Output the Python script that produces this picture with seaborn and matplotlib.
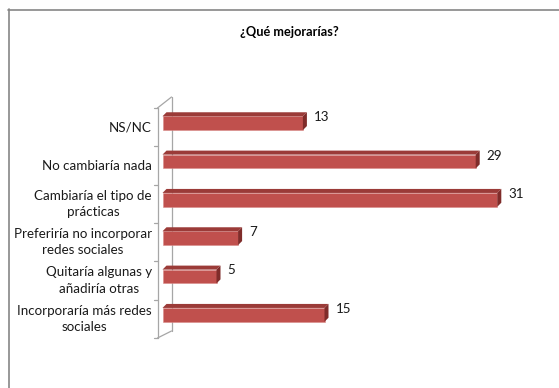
import matplotlib
matplotlib.use("Agg")
import matplotlib.pyplot as plt
from matplotlib.patches import Polygon
from matplotlib.lines import Line2D
from matplotlib.transforms import IdentityTransform
import seaborn as sns
import pandas as pd

categories = ["NS/NC", "No cambiaría nada", "Cambiaría el tipo de\nprácticas",
              "Preferiría no incorporar\nredes sociales", "Quitaría algunas y\nañadiría otras",
              "Incorporaría más redes\nsociales"]
values = [13, 29, 31, 7, 5, 15]
title = "¿Qué mejorarías?"

sns.set_theme(style="white")
plt.rcParams['font.family'] = ['Lato', 'DejaVu Sans']

W, H = 559, 388
fig = plt.figure(figsize=(W / 100, H / 100), dpi=100)
fig.patch.set_facecolor("white")


def fx(x):
    return x / W


def fy(y):
    return 1 - y / H


X0, SCALE = 162.5, 10.8
TOP, BOT = 104, 334
ax = fig.add_axes([fx(X0), fy(BOT), 36 * SCALE / W, (BOT - TOP) / H])
ax.set_zorder(1)

df = pd.DataFrame({"cat": categories, "val": values})
sns.barplot(data=df, x="val", y="cat", orient="h", color="#C0504D", saturation=1,
            width=0.36, ax=ax, edgecolor="#D98C8A", linewidth=0.4)
ax.set_xlim(0, 36)
ax.set_ylim(len(categories) - 0.5, -0.5)
for s in ax.spines.values():
    s.set_visible(False)
ax.set_xticks([])
ax.set_yticks([])
ax.set_xlabel("")
ax.set_ylabel("")
ax.patch.set_alpha(0)

# 3D faces derived from bar geometry
d = 4.0
for p in ax.patches:
    x, y, w, h = p.get_x(), p.get_y(), p.get_width(), p.get_height()
    (dx0, dy0) = ax.transData.transform((x, y))
    (dx1, dy1) = ax.transData.transform((x + w, y + h))
    xl, xr = min(dx0, dx1), max(dx0, dx1)
    yb, yt = min(dy0, dy1), max(dy0, dy1)
    top = Polygon([(xl, yt), (xr, yt), (xr + d, yt + d), (xl + d, yt + d)],
                  closed=True, transform=IdentityTransform(), facecolor="#9B3B38",
                  edgecolor="none", zorder=3)
    side = Polygon([(xr, yb), (xr, yt), (xr + d, yt + d), (xr + d, yb + d)],
                   closed=True, transform=IdentityTransform(), facecolor="#7F2C2A",
                   edgecolor="none", zorder=3)
    fig.add_artist(top)
    fig.add_artist(side)

txt = "#1a1a1a"
FS = 9.6
# value labels
for i, v in enumerate(values):
    ax.annotate(str(v), xy=(v, i), xytext=(d + 7, 6), textcoords="offset pixels",
                ha="left", va="center", fontsize=FS, color=txt,
                annotation_clip=False)

# category labels
for i, c in enumerate(categories):
    ax.annotate(c, xy=(0, i), xytext=(-10.5, -4), textcoords="offset pixels",
                ha="right", va="center", multialignment="center", fontsize=FS,
                color=txt, linespacing=1.45, annotation_clip=False)

# 3D wall lines (behind bars)
wall = "#A6A6A6"
FX, BX = 157.5, 171.5
kw = dict(transform=fig.transFigure, color=wall, lw=0.9, zorder=-1)
fig.add_artist(Line2D([fx(FX), fx(FX)], [fy(108), fy(338)], **kw))
fig.add_artist(Line2D([fx(BX), fx(BX)], [fy(97), fy(331)], **kw))
fig.add_artist(Line2D([fx(FX), fx(BX)], [fy(108), fy(97)], **kw))
fig.add_artist(Line2D([fx(FX), fx(BX)], [fy(338), fy(331)], **kw))
for i in range(len(categories) + 1):
    _, ty = ax.transData.transform((0, i - 0.5))
    ty = ty - 4
    fig.add_artist(Line2D([fx(FX - 4), fx(FX)], [ty / H, ty / H], **kw))

# title
fig.text(fx(289), fy(32), title, ha="center", va="center", fontsize=9.2,
         fontweight="bold", color="#000000")

# chart frame
frame = "#868686"
fig.add_artist(Line2D([fx(8.5), fx(8.5)], [fy(9), 0], transform=fig.transFigure,
                      color=frame, lw=1.2))
fig.add_artist(Line2D([fx(8), 1], [fy(9.5), fy(9.5)], transform=fig.transFigure,
                      color=frame, lw=1.2))

fig.savefig("out.png", dpi=100)
